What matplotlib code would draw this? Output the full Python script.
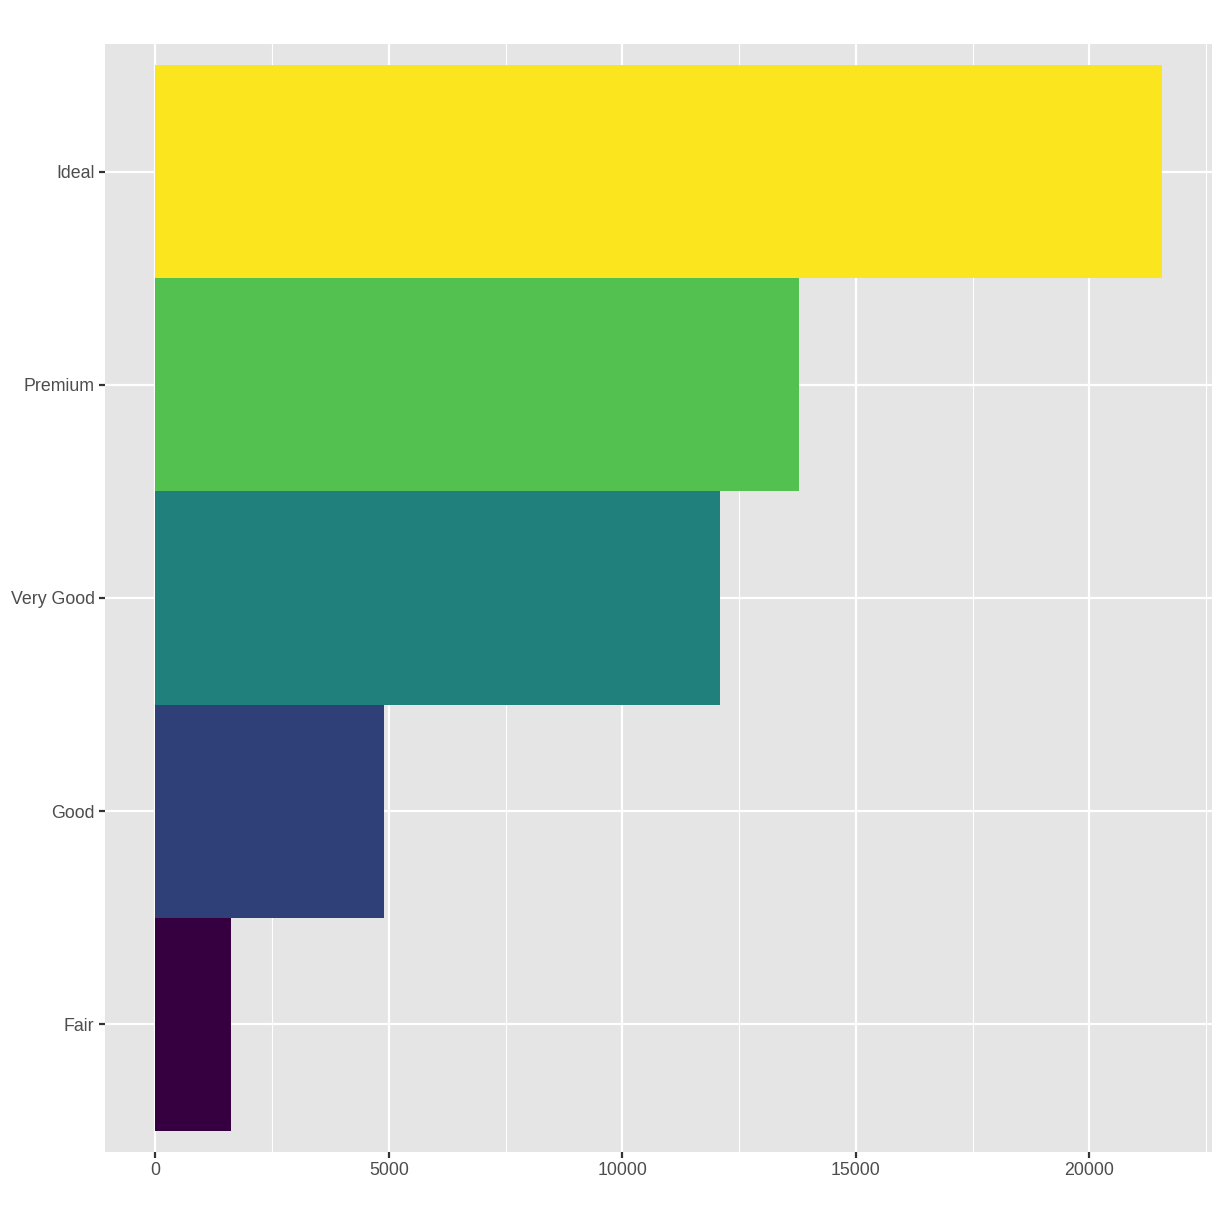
import matplotlib
matplotlib.use("Agg")
import matplotlib.pyplot as plt
from matplotlib.ticker import MultipleLocator

cuts = ["Fair", "Good", "Very Good", "Premium", "Ideal"]
counts = [1610, 4906, 12082, 13791, 21551]
colors = ["#360040", "#2F3F78", "#20807C", "#52C150", "#FBE51F"]
xticks = [0, 5000, 10000, 15000, 20000]

W, H = 1224, 1224
fig = plt.figure(figsize=(W/100, H/100), dpi=100)
ax = fig.add_axes([105/W, (H-1152)/H, (1212-105)/W, (1152-44)/H])
ax.set_facecolor("#E5E5E5")

ypos = list(range(1, len(cuts)+1))
ax.barh(ypos, counts, height=1.0, color=colors, zorder=3)

xmax = max(counts)
pad = 0.05 * xmax
ax.set_xlim(-pad, xmax + pad)
ax.set_ylim(0.4, len(cuts) + 0.6)

ax.set_xticks(xticks)
ax.set_xticklabels([str(v) for v in xticks])
ax.xaxis.set_minor_locator(MultipleLocator(2500))
ax.set_yticks(ypos)
ax.set_yticklabels(cuts)

ax.grid(which="major", color="white", linewidth=1.6, zorder=1)
ax.grid(which="minor", axis="x", color="white", linewidth=0.8, zorder=1)
for s in ax.spines.values():
    s.set_visible(False)
ax.tick_params(which="major", length=4.5, width=1.6, color="#333333",
               labelcolor="#4D4D4D", labelsize=12.8, pad=3)
ax.tick_params(which="minor", length=0)
for lab in ax.get_xticklabels() + ax.get_yticklabels():
    lab.set_family(["Liberation Sans", "DejaVu Sans"])

fig.savefig("out.png", dpi=100, facecolor="white")
